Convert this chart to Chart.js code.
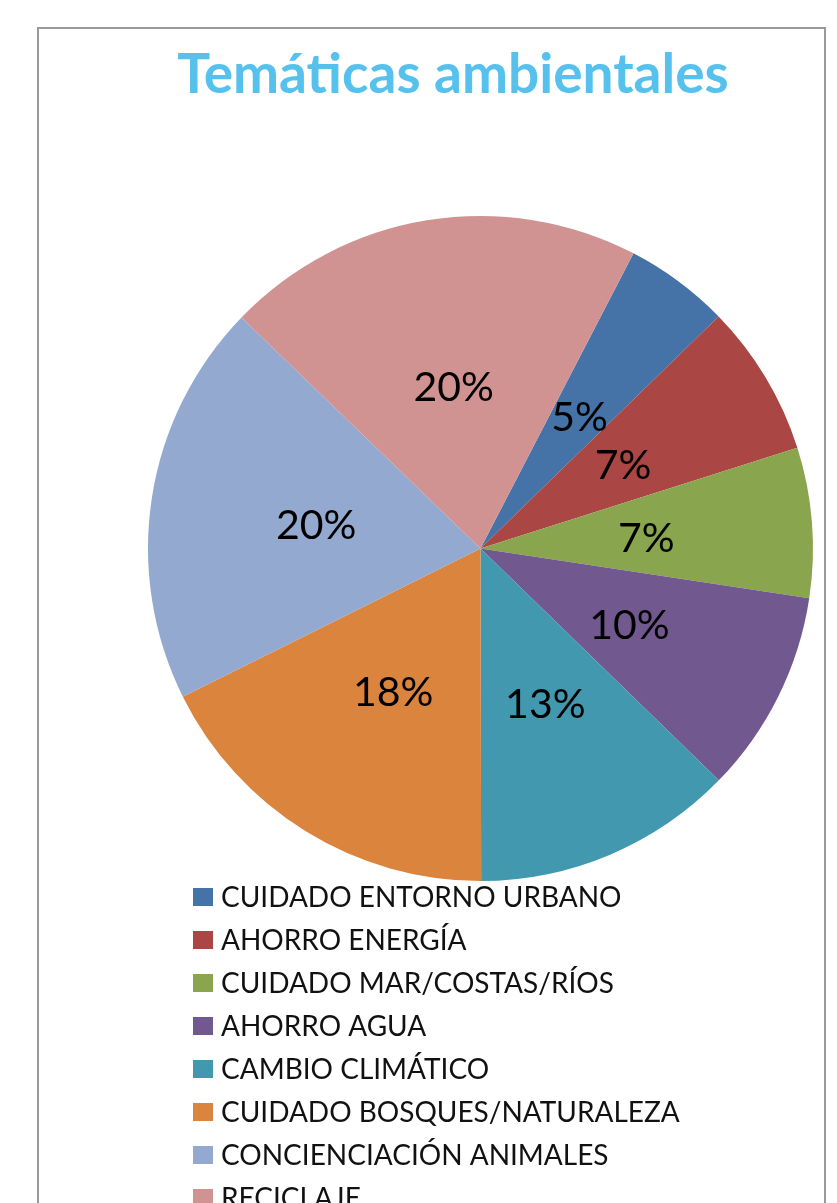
<!DOCTYPE html>
<html>
<head>
<meta charset="utf-8">
<script src="https://cdn.jsdelivr.net/npm/chart.js@4"></script>
<style>
  html, body { margin: 0; padding: 0; background: #fff; overflow: hidden; }
  #frame { position: absolute; left: 37px; top: 27px; width: 785px; height: 1250px; border: 2px solid #999; }
  #wrap { position: absolute; left: 0; top: 0; width: 837px; height: 1203px; }
</style>
</head>
<body>
<div id="frame"></div>
<div id="wrap"><canvas id="pieChart" width="837" height="1203"></canvas></div>
<script>
var chartTitle = 'Temáticas ambientales';
var categories = ['CUIDADO ENTORNO URBANO', 'AHORRO ENERGÍA', 'CUIDADO MAR/COSTAS/RÍOS', 'AHORRO AGUA',
                  'CAMBIO CLIMÁTICO', 'CUIDADO BOSQUES/NATURALEZA', 'CONCIENCIACIÓN ANIMALES', 'RECICLAJE'];
var shares = [5.1, 7.4, 7.3, 9.9, 12.7, 17.7, 19.6, 20.4];
var sliceColors = ['#4572A7', '#AA4643', '#89A54E', '#71588F', '#4198AF', '#DB843D', '#93A9CF', '#D19392'];

var total = shares.reduce(function (a, b) { return a + b; }, 0);

// percent labels in the middle of each slice
var percentLabels = {
    id: 'percentLabels',
    afterDatasetsDraw: function (chart) {
        var ctx = chart.ctx;
        var meta = chart.getDatasetMeta(0);
        ctx.save();
        ctx.font = '41px Lato';
        ctx.fillStyle = '#000';
        ctx.textAlign = 'center';
        ctx.textBaseline = 'middle';
        meta.data.forEach(function (arc, i) {
            var p = arc.getCenterPoint();
            ctx.fillText(Math.round(shares[i] / total * 100) + '%', p.x, p.y + 3);
        });
        ctx.restore();
    }
};

// title and excel style one-column legend
var excelDecor = {
    id: 'excelDecor',
    afterDraw: function (chart) {
        var ctx = chart.ctx;
        ctx.save();
        ctx.font = 'bold 55px Lato';
        ctx.fillStyle = '#56C1EC';
        ctx.textAlign = 'center';
        ctx.textBaseline = 'alphabetic';
        ctx.fillText(chartTitle, 453, 93);

        ctx.font = '28px Lato';
        ctx.textAlign = 'left';
        ctx.textBaseline = 'middle';
        categories.forEach(function (c, i) {
            var y = 897 + i * 43;
            ctx.fillStyle = sliceColors[i];
            ctx.fillRect(193, y - 9, 20, 18);
            ctx.fillStyle = '#111';
            ctx.fillText(c, 221, y + 1);
        });
        ctx.restore();
    }
};

new Chart(document.getElementById('pieChart').getContext('2d'), {
    type: 'pie',
    data: {
        labels: categories,
        datasets: [{
            data: shares,
            backgroundColor: sliceColors,
            borderWidth: 0
        }]
    },
    options: {
        responsive: false,
        animation: false,
        rotation: 27.4,
        layout: { padding: { left: 146, right: 22, top: 216, bottom: 322 } },
        plugins: {
            legend: { display: false },
            tooltip: { enabled: false },
            title: { display: false }
        }
    },
    plugins: [percentLabels, excelDecor]
});
</script>
</body>
</html>
